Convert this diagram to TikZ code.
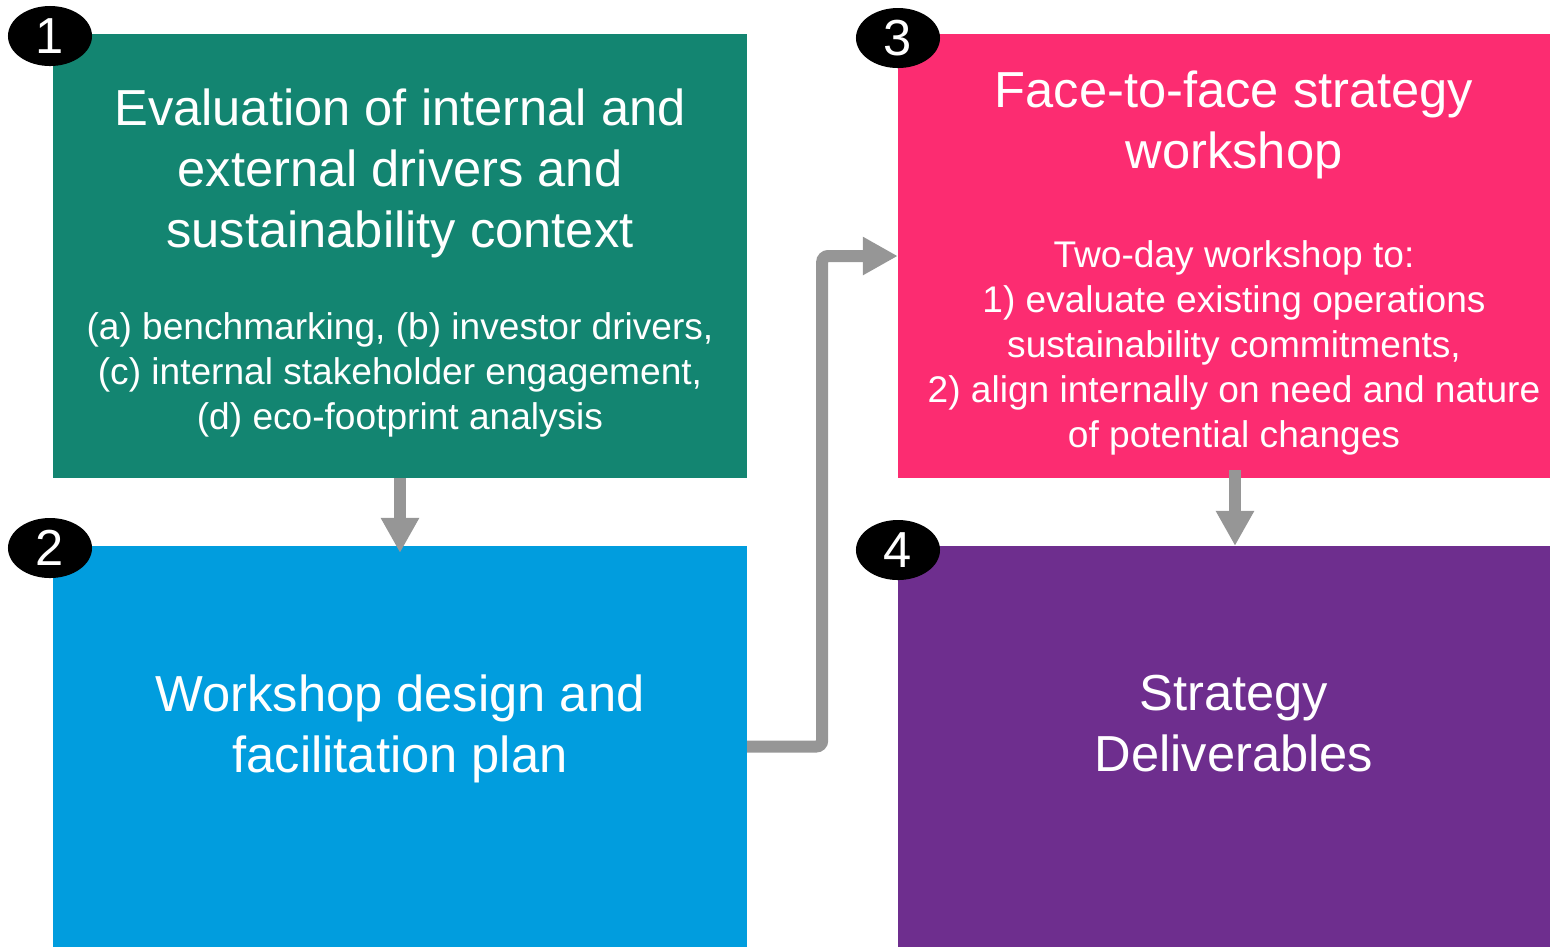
\documentclass[tikz,border=0pt]{standalone}
\usepackage{fontspec}
\setmainfont{Liberation Sans}
\usetikzlibrary{shapes.geometric,arrows.meta,calc}
\definecolor{cteal}{HTML}{138571}
\definecolor{ccyan}{HTML}{019DDE}
\definecolor{cpink}{HTML}{FC2C71}
\definecolor{cpurple}{HTML}{6E2E8E}
\definecolor{cgray}{HTML}{969696}
\tikzset{
  stepbox/.style={inner sep=0pt, outer sep=0pt, draw=none},
  boxtop/.style={stepbox, minimum width=6.94cm, minimum height=4.44cm},
  boxbot/.style={stepbox, minimum width=6.94cm, minimum height=4.01cm},
  boxtopr/.style={stepbox, minimum width=6.52cm, minimum height=4.44cm},
  boxbotr/.style={stepbox, minimum width=6.52cm, minimum height=4.01cm},
  bigtxt/.style={text=white, align=center, inner sep=0pt, font=\fontsize{14.4}{17.35}\selectfont},
  smalltxt/.style={text=white, align=center, inner sep=0pt, font=\fontsize{10.55}{12.8}\selectfont},
  badge/.style={ellipse, fill=black, minimum width=0.84cm, minimum height=0.60cm, inner sep=0pt, text=white, font=\fontsize{14.4}{17}\selectfont},
  flow/.style={draw=cgray, line width=0.12cm, -{Triangle[length=0.35cm, width=0.36cm]}}
}
\begin{document}
\begin{tikzpicture}[x=0.01cm, y=-0.01cm]
\useasboundingbox (0,0) rectangle (1550,947);
% boxes
\node[boxtop, fill=cteal] (b1) at (400,256) {};
\node[boxbot, fill=ccyan] (b2) at (400,746.5) {};
\node[boxtopr, fill=cpink] (b3) at (1224,256) {};
\node[boxbotr, fill=cpurple] (b4) at (1224,746.5) {};
% texts
\node[bigtxt] (t1) at (400,173) {Evaluation of internal and\\external drivers and\\sustainability context};
\node[smalltxt] (s1) at (400,374.5) {(a) benchmarking, (b) investor drivers,\\(c) internal stakeholder engagement,\\(d) eco-footprint analysis};
\node[bigtxt] (t2) at (400,729) {Workshop design and\\facilitation plan};
\node[bigtxt] (t3) at (1234,124.5) {Face-to-face strategy\\workshop};
\node[smalltxt] (s3) at (1234,348) {Two-day workshop to:\\1) evaluate existing operations\\sustainability commitments,\\2) align internally on need and nature\\of potential changes};
\node[bigtxt] (t4) at (1234,724) {Strategy\\Deliverables};
% connectors
\draw[flow] (b1.south) -- ($(b2.north)+(0,7)$);
\draw[flow] ($(s3 |- b3.south)+(1,-8)$) -- ($(s3 |- b4.north)+(1,0)$);
\draw[flow, rounded corners=0.06cm] (b2.east) -- ++(75,0) |- (b3.west);
% badges
\node[badge] (n1) at (50,36) {1};
\node[badge] (n2) at (50,548) {2};
\node[badge] (n3) at (898,38) {3};
\node[badge] (n4) at (898,550) {4};
\end{tikzpicture}
\end{document}
